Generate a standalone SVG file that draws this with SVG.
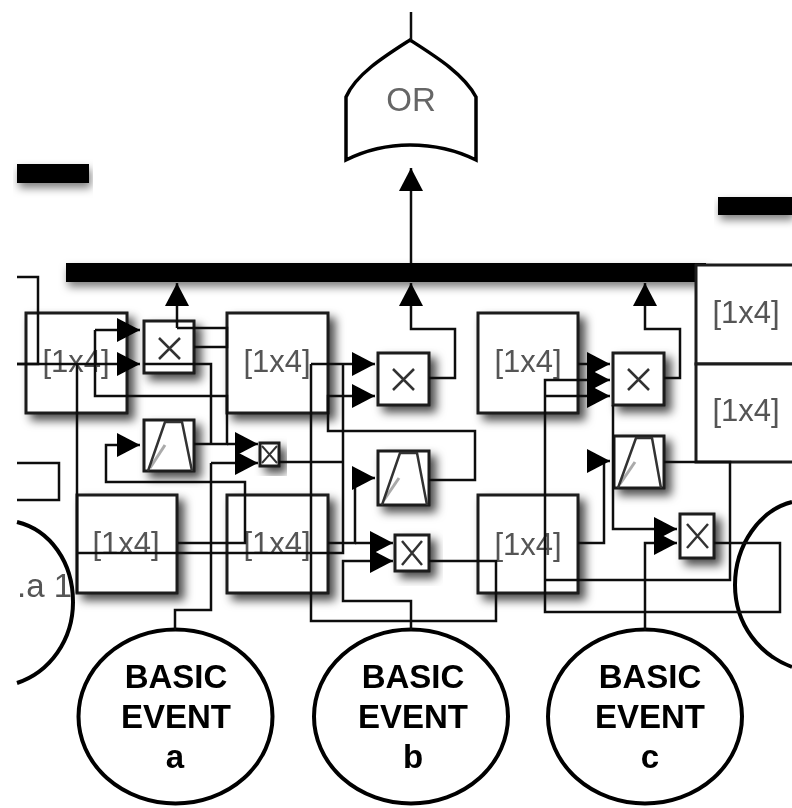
<svg xmlns="http://www.w3.org/2000/svg" width="792" height="808" viewBox="0 0 792 808">
<style>
.b{fill:#fff;stroke:#1a1a1a;stroke-width:3;filter:url(#sh)}
.g{fill:#fff;stroke:#000;stroke-width:3.5}
.t{font-family:"Liberation Sans",Arial,sans-serif;font-size:31px;fill:#555;text-anchor:middle}
.e{font-family:"Liberation Sans",Arial,sans-serif;font-size:33px;font-weight:bold;fill:#000;text-anchor:middle}
.c{fill:#fff;stroke:#000;stroke-width:4}
.bar{fill:#000;filter:url(#sh2)}
.w{fill:none;stroke:#111;stroke-width:2.5}
.a{marker-end:url(#r)}
.x{fill:none;stroke:#333;stroke-width:2.5}
.rp{fill:none;stroke:#333;stroke-width:2.5}
.rg{fill:none;stroke:#aaa;stroke-width:3}
</style>
<defs>
<filter id="sh" x="-30%" y="-30%" width="170%" height="170%"><feDropShadow dx="6" dy="6" stdDeviation="5" flood-color="#000" flood-opacity="0.7"/></filter>
<filter id="sh2" x="-5%" y="-50%" width="110%" height="300%"><feDropShadow dx="2" dy="5" stdDeviation="4" flood-color="#000" flood-opacity="0.5"/></filter>
<filter id="soft" x="0" y="0" width="100%" height="100%"><feGaussianBlur stdDeviation="0.5"/></filter>
<marker id="r" markerUnits="userSpaceOnUse" markerWidth="24" markerHeight="26" refX="23" refY="12" orient="auto" overflow="visible"><path d="M0 0L23 12L0 24Z" fill="#000"/></marker>
</defs>
<g id="diagram" filter="url(#soft)">
<rect x="0" y="0" width="792" height="808" fill="#fff"/>
<g id="bars">
<rect class="bar" x="17" y="164" width="72" height="19"/>
<rect class="bar" x="718" y="197" width="74" height="18"/>
<rect class="bar" x="66" y="263" width="640" height="19"/>
</g>
<g id="or-gate">
<path class="g" d="M410 40C385 56 356 74 346 97V160C366 150 385 145 410 145C435 145 456 150 476 160V97C464 74 435 56 410 40Z"/>
<text class="t" x="411" y="111" style="font-size:33px;fill:#666">OR</text>
</g>
<g id="block1"><rect class="b" x="26" y="313" width="101" height="100"/><text class="t" x="76" y="372">[1x4]</text></g>
<g id="block2"><rect class="b" x="227" y="313" width="101" height="100"/><text class="t" x="277" y="372">[1x4]</text></g>
<g id="block3"><rect class="b" x="77" y="495" width="100" height="98"/><text class="t" x="126" y="554">[1x4]</text></g>
<g id="block4"><rect class="b" x="227" y="495" width="101" height="98"/><text class="t" x="277" y="554">[1x4]</text></g>
<g id="block5"><rect class="b" x="478" y="313" width="100" height="100"/><text class="t" x="528" y="372">[1x4]</text></g>
<g id="block6"><rect class="b" x="478" y="495" width="100" height="98"/><text class="t" x="528" y="555">[1x4]</text></g>
<g id="block7"><rect class="b" x="696" y="265" width="110" height="99" style="filter:none"/><text class="t" x="746" y="323">[1x4]</text></g>
<g id="block8"><rect class="b" x="696" y="364" width="110" height="98" style="filter:none"/><text class="t" x="746" y="421">[1x4]</text></g>
<g id="small-block"><path class="w" d="M17 463H59V500H17"/></g>
<g id="mult1"><rect class="b" x="144" y="321" width="50" height="52"/><path class="x" d="M159 338L180 359M180 338L159 359"/></g>
<g id="mult2"><rect class="b" x="378" y="353" width="51" height="52"/><path class="x" d="M393 369L414 390M414 369L393 390"/></g>
<g id="mult3"><rect class="b" x="395" y="535" width="34" height="36"/><path class="x" d="M402 541L422 565M422 541L402 565"/></g>
<g id="mult4"><rect class="b" x="613" y="353" width="51" height="52"/><path class="x" d="M628 369L649 390M649 369L628 390"/></g>
<g id="mult5"><rect class="b" x="680" y="514" width="34" height="44"/><path class="x" d="M687 524L708 548M708 524L687 548"/></g>
<g id="mult6"><rect class="b" x="260" y="443" width="19" height="23"/><path class="x" style="stroke-width:2" d="M262 446L277 463M277 446L262 463"/></g>
<g id="ramp1"><rect class="b" x="144" y="420" width="50" height="51"/><path class="rg" d="M150 468L165 445"/><path class="rp" d="M148 471L165 422H182L192 471"/></g>
<g id="ramp2"><rect class="b" x="378" y="451" width="51" height="54"/><path class="rg" d="M384 500L399 478"/><path class="rp" d="M382 505L400 453H417L427 505"/></g>
<g id="ramp3"><rect class="b" x="614" y="436" width="50" height="52"/><path class="rg" d="M620 484L635 462"/><path class="rp" d="M618 488L636 438H652L661 488"/></g>
<g id="event-left"><path class="c" style="fill:none" d="M17 522C50 530 73 562 73 602C73 640 50 672 17 683"/><text class="t" x="17" y="597" style="text-anchor:start;font-size:33px">.a 1</text></g>
<g id="event-right"><path class="c" style="fill:none" d="M792 502C760 510 735 545 735 585C735 625 760 655 792 667"/></g>
<g id="event-a"><ellipse class="c" cx="175.500" cy="716.500" rx="97" ry="87"/><text class="e" x="176" y="688">BASIC</text><text class="e" x="176" y="728">EVENT</text><text class="e" x="175" y="768">a</text></g>
<g id="event-b"><ellipse class="c" cx="411" cy="716.500" rx="97" ry="87"/><text class="e" x="413" y="688">BASIC</text><text class="e" x="413" y="728">EVENT</text><text class="e" x="413" y="768">b</text></g>
<g id="event-c"><ellipse class="c" cx="645" cy="716.500" rx="97" ry="87"/><text class="e" x="650" y="688">BASIC</text><text class="e" x="650" y="728">EVENT</text><text class="e" x="650" y="768">c</text></g>
<g id="connectors">
<path class="w" d="M411 12V40"/>
<path class="w a" d="M411 263V168"/>
<path class="w a" d="M177 328V283"/>
<path class="w a" d="M429 378H455V329H411V283"/>
<path class="w a" d="M664 378H680V329H645V283"/>
<path class="w" d="M177 328H227V347H194"/>
<path class="w" d="M17 277H38V364H17"/>
<path class="w a" d="M17 364H140"/>
<path class="w" d="M77 364V593"/>
<path class="w" d="M77 553H343V364"/>
<path class="w" d="M95 330V396H227V444H194"/>
<path class="w a" d="M95 330H140"/>
<path class="w a" d="M227 444H258"/>
<path class="w" d="M144 364H211V444"/>
<path class="w" d="M175 630V610H211V463"/>
<path class="w a" d="M211 463H258"/>
<path class="w a" d="M178 543H245V482H106V445H140"/>
<path class="w" d="M279 462H343"/>
<path class="w" d="M311 364V621H496V561H429"/>
<path class="w a" d="M311 364H375"/>
<path class="w a" d="M429 480H475V431H328V396H375"/>
<path class="w a" d="M328 543H355V478H375"/>
<path class="w a" d="M355 543H393"/>
<path class="w a" d="M411 630V601H343V561H393"/>
<path class="w a" d="M578 364H610"/>
<path class="w a" d="M714 543H780V612H545V380H610"/>
<path class="w a" d="M545 396H610"/>
<path class="w" d="M664 462H730V580H545"/>
<path class="w a" d="M578 543H604V461H610"/>
<path class="w a" d="M613 405V529H677"/>
<path class="w a" d="M645 630V543H677"/>
</g>
</g>
</svg>
